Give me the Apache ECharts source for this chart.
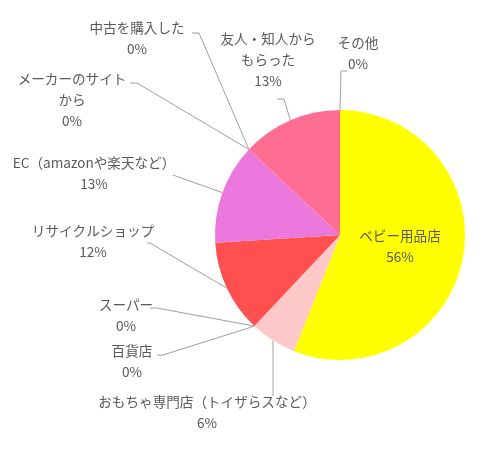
<!DOCTYPE html>
<html>
<head>
<meta charset="utf-8">
<script src="https://cdn.jsdelivr.net/npm/echarts@6/dist/echarts.min.js"></script>
<style>
html,body{margin:0;padding:0;background:#fff;}
#chart{width:502px;height:452px;}
</style>
</head>
<body>
<div id="chart"></div>
<script>
// Data
var categories = [
  'ベビー用品店',
  'おもちゃ専門店（トイザらスなど）',
  '百貨店',
  'スーパー',
  'リサイクルショップ',
  'EC（amazonや楽天など）',
  'メーカーのサイト\nから',
  '中古を購入した',
  '友人・知人から\nもらった',
  'その他'
];
var shares = [56, 6, 0, 0, 12, 13, 0, 0, 13, 0];
var colors = ['#FFFF00', '#FFC8C8', '#FFC8C8', '#FF5050', '#FF5050', '#EC77DD', '#EC77DD', '#FF6D93', '#FF6D93', '#FF6D93'];

// Label layout (text block centre + leader elbow), in pixels
var labelPos = [
  {x: 400, y: 246},
  {x: 207, y: 412, line: [[null, 396]]},
  {x: 132, y: 361, line: [[163, 355], [157, 355]]},
  {x: 126, y: 315, line: [[157, 308], [150, 308]]},
  {x: 93,  y: 241, line: [[150, 243], [147, 243]]},
  {x: 94,  y: 173, line: [[173, 175], [173, 175]]},
  {x: 72,  y: 100, line: [[137, 83], [130, 83]]},
  {x: 137, y: 38,  line: [[199, 33], [192, 33]]},
  {x: 268, y: 60,  line: [[284, 99], [277, 99]]},
  {x: 358, y: 53,  line: [[341, 71], [347, 71]]}
];

var chart = echarts.init(document.getElementById('chart'), null, {renderer: 'canvas'});
var data = categories.map(function (c, i) {
  var item = {name: c, value: shares[i], itemStyle: {color: colors[i]}};
  if (i === 0) {
    item.labelLine = {show: false};
  }
  return item;
});

chart.setOption({
  animation: false,
  backgroundColor: '#ffffff',
  series: [{
    type: 'pie',
    center: [340, 235],
    radius: 125,
    startAngle: 90,
    clockwise: true,
    avoidLabelOverlap: false,
    percentPrecision: 0,
    data: data,
    itemStyle: {borderWidth: 0},
    emphasis: {disabled: true},
    label: {
      show: true,
      position: 'outside',
      formatter: '{b}\n{d}%',
      color: '#595959',
      fontFamily: '"Noto Sans CJK JP", sans-serif',
      fontSize: 13.6,
      lineHeight: 21,
      align: 'center'
    },
    labelLine: {
      show: true,
      length: 10,
      length2: 10,
      smooth: false,
      lineStyle: {color: '#a0a0a0', width: 1}
    },
    labelLayout: function (params) {
      var p = labelPos[params.dataIndex];
      var res = {x: p.x, y: p.y, align: 'center', verticalAlign: 'middle'};
      if (p.line && params.labelLinePoints) {
        var a = params.labelLinePoints[0];
        var pts = [[a[0], a[1]]];
        p.line.forEach(function (q) {
          pts.push([q[0] == null ? a[0] : q[0], q[1]]);
        });
        if (pts.length < 3) pts.push(pts[pts.length - 1].slice());
        res.labelLinePoints = pts;
      }
      return res;
    }
  }]
});
</script>
</body>
</html>
